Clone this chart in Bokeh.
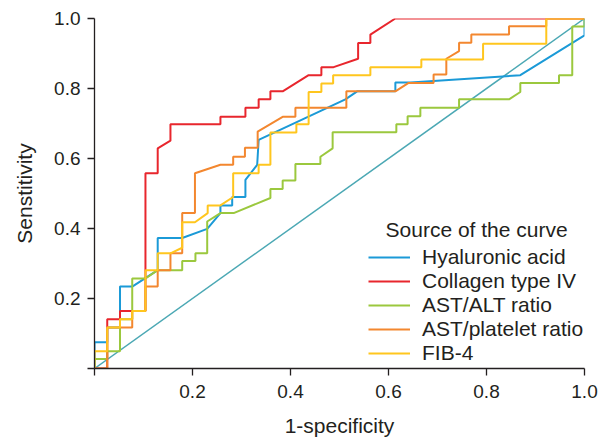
from bokeh.plotting import figure
from bokeh.models import Legend, LegendItem, Label, FixedTicker
from bokeh.embed import file_html
from bokeh.resources import INLINE

# ROC curves (1-specificity, sensitivity)
ha_x = [0, 0, 0.026, 0.026, 0.052, 0.052, 0.077, 0.129, 0.129, 0.179, 0.230, 0.257, 0.257, 0.281, 0.281, 0.308, 0.308, 0.332, 0.335, 0.512, 0.536, 0.614, 0.614, 0.645, 0.869, 1.0, 1.0]
ha_y = [0, 0.075, 0.075, 0.117, 0.117, 0.234, 0.234, 0.281, 0.373, 0.373, 0.399, 0.444, 0.466, 0.466, 0.490, 0.490, 0.539, 0.582, 0.653, 0.769, 0.792, 0.792, 0.817, 0.817, 0.838, 0.952, 1.0]

col_x = [0, 0.026, 0.026, 0.052, 0.052, 0.104, 0.104, 0.129, 0.129, 0.155, 0.155, 0.257, 0.257, 0.308, 0.308, 0.335, 0.335, 0.359, 0.359, 0.384, 0.437, 0.463, 0.463, 0.488, 0.538, 0.538, 0.563, 0.563, 0.614, 1.0]
col_y = [0, 0, 0.141, 0.141, 0.164, 0.164, 0.558, 0.558, 0.629, 0.651, 0.698, 0.698, 0.719, 0.719, 0.745, 0.745, 0.769, 0.769, 0.792, 0.792, 0.838, 0.838, 0.861, 0.861, 0.885, 0.930, 0.930, 0.954, 1.0, 1.0]

alt_x = [0, 0, 0.026, 0.026, 0.052, 0.052, 0.077, 0.077, 0.104, 0.129, 0.179, 0.179, 0.206, 0.206, 0.230, 0.230, 0.257, 0.284, 0.359, 0.359, 0.384, 0.384, 0.410, 0.410, 0.461, 0.461, 0.486, 0.486, 0.616, 0.616, 0.639, 0.639, 0.665, 0.665, 0.744, 0.744, 0.846, 0.869, 0.869, 0.948, 0.948, 0.975, 0.975, 1.0, 1.0]
alt_y = [0, 0.027, 0.027, 0.049, 0.049, 0.141, 0.141, 0.257, 0.257, 0.281, 0.281, 0.307, 0.307, 0.329, 0.329, 0.420, 0.444, 0.444, 0.487, 0.513, 0.513, 0.537, 0.537, 0.584, 0.584, 0.605, 0.629, 0.675, 0.675, 0.698, 0.698, 0.721, 0.721, 0.745, 0.745, 0.769, 0.769, 0.790, 0.816, 0.816, 0.838, 0.838, 0.977, 0.977, 1.0]

apr_x = [0, 0.026, 0.026, 0.077, 0.077, 0.104, 0.104, 0.129, 0.129, 0.155, 0.155, 0.179, 0.179, 0.205, 0.205, 0.257, 0.283, 0.283, 0.307, 0.307, 0.333, 0.333, 0.384, 0.410, 0.410, 0.514, 0.514, 0.614, 0.641, 0.692, 0.692, 0.718, 0.718, 0.744, 0.744, 0.769, 0.769, 0.846, 0.846, 0.922, 0.922, 1.0]
apr_y = [0, 0, 0.117, 0.117, 0.164, 0.164, 0.234, 0.234, 0.281, 0.281, 0.329, 0.329, 0.444, 0.444, 0.558, 0.582, 0.582, 0.605, 0.605, 0.631, 0.631, 0.677, 0.719, 0.719, 0.745, 0.745, 0.792, 0.792, 0.816, 0.816, 0.840, 0.840, 0.885, 0.907, 0.931, 0.931, 0.954, 0.954, 0.978, 0.978, 1.0, 1.0]

fib_x = [0, 0, 0.026, 0.026, 0.052, 0.052, 0.077, 0.077, 0.104, 0.104, 0.129, 0.129, 0.155, 0.179, 0.179, 0.205, 0.231, 0.231, 0.257, 0.283, 0.283, 0.335, 0.335, 0.359, 0.359, 0.412, 0.412, 0.437, 0.437, 0.463, 0.463, 0.487, 0.487, 0.563, 0.563, 0.667, 0.667, 0.793, 0.793, 0.922, 0.922, 1.0]
fib_y = [0, 0.049, 0.049, 0.117, 0.117, 0.141, 0.141, 0.164, 0.164, 0.281, 0.281, 0.329, 0.329, 0.345, 0.418, 0.418, 0.444, 0.466, 0.466, 0.490, 0.558, 0.558, 0.582, 0.582, 0.674, 0.674, 0.698, 0.698, 0.790, 0.790, 0.814, 0.814, 0.838, 0.838, 0.861, 0.861, 0.883, 0.883, 0.928, 0.928, 1.0, 1.0]

ref_x = [0, 1]
ref_y = [0, 1]

names = ["Hyaluronic acid", "Collagen type IV", "AST/ALT ratio", "AST/platelet ratio", "FIB-4"]
colors = ["#1B9AD7", "#E8262D", "#9BC83E", "#F3872F", "#FFC61E"]
xs = [ha_x, col_x, alt_x, apr_x, fib_x]
ys = [ha_y, col_y, alt_y, apr_y, fib_y]

x_ticks = [0, 0.2, 0.4, 0.6, 0.8, 1.0]
y_ticks = [0, 0.2, 0.4, 0.6, 0.8, 1.0]

FONT = "Liberation Sans"
TXT = "#231F20"

p = figure(width=600, height=439, x_range=(0, 1), y_range=(0, 1),
           output_backend="svg", toolbar_location=None,
           min_border_left=94, min_border_right=16, min_border_top=18, min_border_bottom=69)
p.outline_line_color = None
p.grid.visible = False
p.background_fill_color = "white"

p.line(ref_x, ref_y, color="#4BA8B4", line_width=1.5)

items = []
for nm, c, x, y in zip(names, colors, xs, ys):
    r = p.line(x, y, color=c, line_width=2)
    items.append(LegendItem(label=nm, renderers=[r]))

for ax in (p.xaxis[0], p.yaxis[0]):
    ax.axis_line_color = TXT
    ax.axis_line_width = 1.3
    ax.major_tick_line_color = TXT
    ax.major_tick_line_width = 1.3
    ax.major_tick_out = 7
    ax.major_tick_in = 0
    ax.minor_tick_line_color = None
    ax.major_label_text_font = FONT
    ax.major_label_text_font_size = "19px"
    ax.major_label_text_color = TXT
    ax.axis_label_text_font = FONT
    ax.axis_label_text_font_size = "21px"
    ax.axis_label_text_font_style = "normal"
    ax.axis_label_text_color = TXT

p.xaxis.ticker = FixedTicker(ticks=x_ticks)
p.yaxis.ticker = FixedTicker(ticks=y_ticks)
p.xaxis.major_label_overrides = {0: "", 1: "1.0"}
p.yaxis.major_label_overrides = {0: "", 1: "1.0"}
p.xaxis.axis_label = "1-specificity"
p.yaxis.axis_label = "Senstitivity"
p.xaxis.major_label_standoff = 9
p.yaxis.major_label_standoff = 7
p.xaxis.axis_label_standoff = 13
p.yaxis.axis_label_standoff = 15

p.add_layout(Label(x=-0.042, y=-0.07, text="0", text_align="center", text_baseline="middle",
                   text_font=FONT, text_font_size="19px", text_color=TXT))
p.add_layout(Label(x=0.594, y=0.398, text="Source of the curve", text_align="left",
                   text_baseline="middle", text_font=FONT, text_font_size="21px", text_color=TXT))

legend = Legend(items=items, location=(274, 3), padding=0, margin=0, spacing=0,
                glyph_width=42, glyph_height=24, label_height=24, label_standoff=12,
                label_text_font=FONT, label_text_font_size="21px", label_text_color=TXT,
                border_line_color=None, background_fill_alpha=0)
p.add_layout(legend)

open("out.html", "w").write(file_html(p, INLINE))
